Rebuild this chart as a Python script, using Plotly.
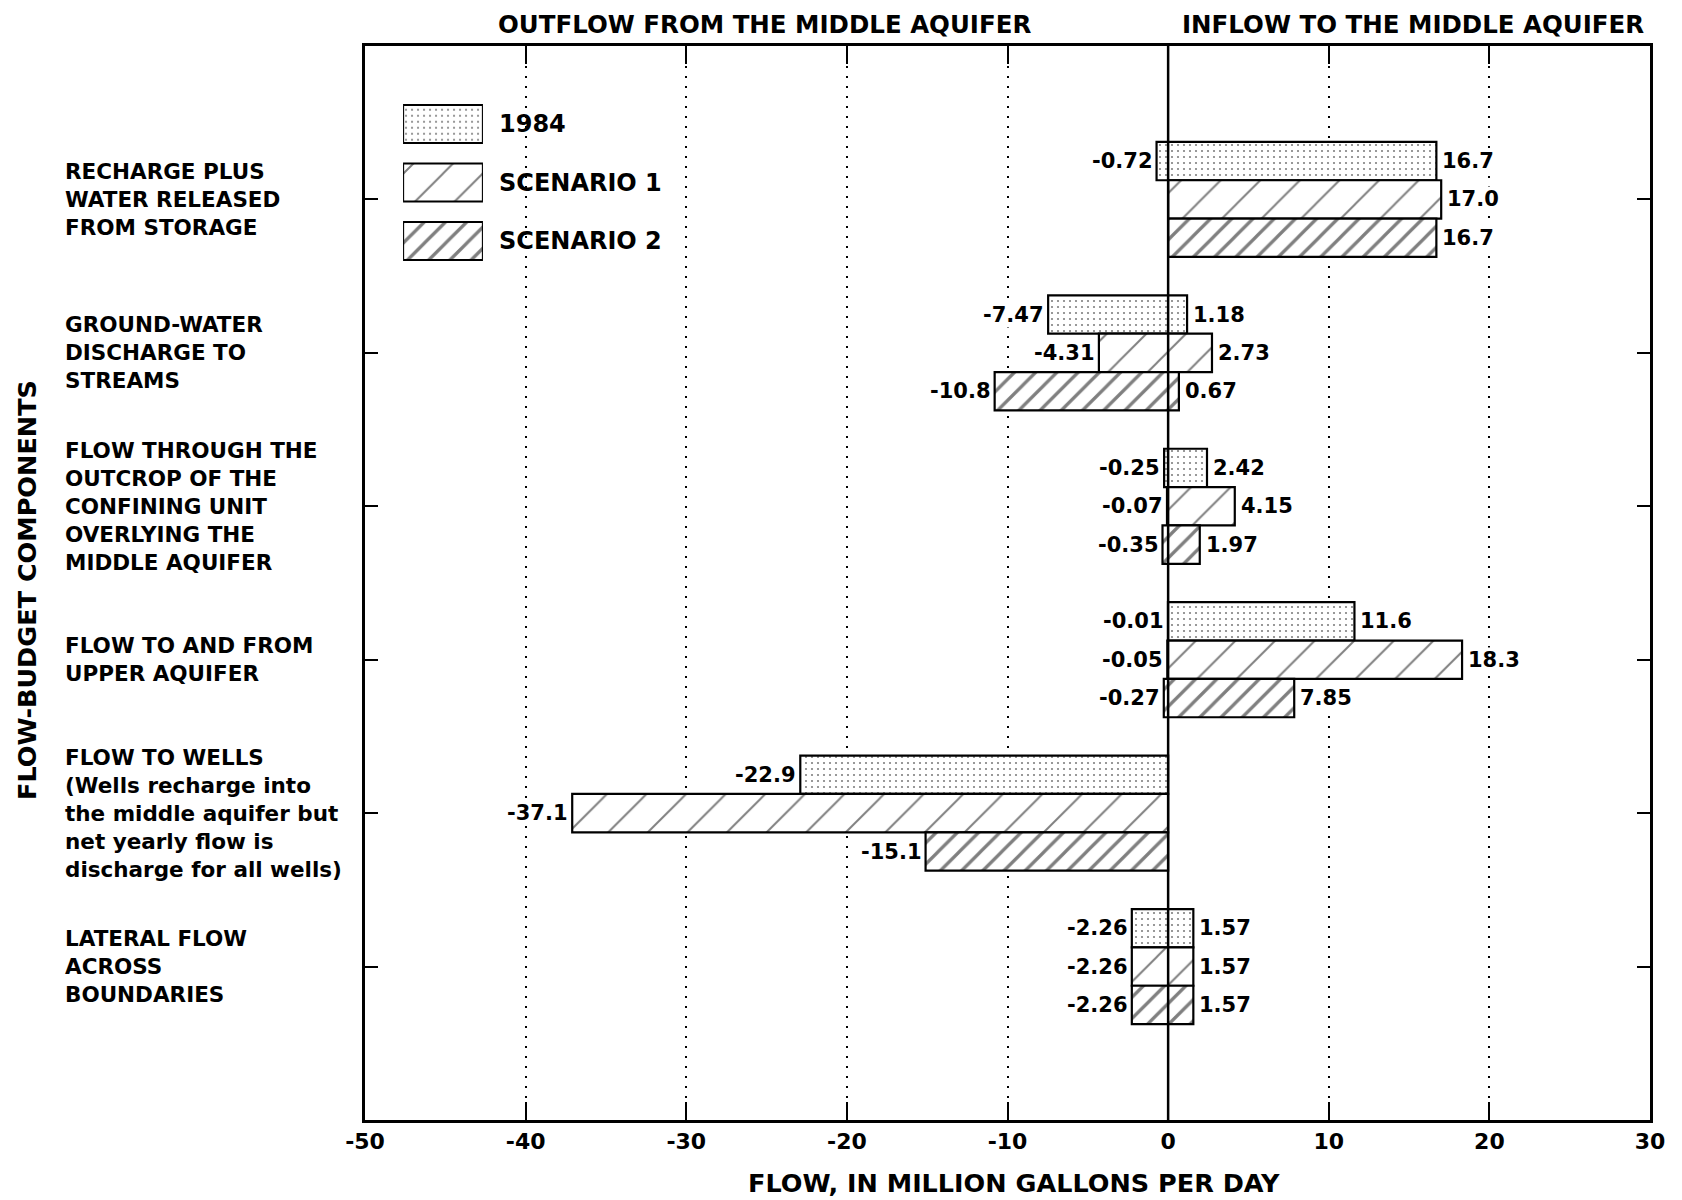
import plotly.graph_objects as go

components = [
    "RECHARGE PLUS<br>WATER RELEASED<br>FROM STORAGE",
    "GROUND-WATER<br>DISCHARGE TO<br>STREAMS",
    "FLOW THROUGH THE<br>OUTCROP OF THE<br>CONFINING UNIT<br>OVERLYING THE<br>MIDDLE AQUIFER",
    "FLOW TO AND FROM<br>UPPER AQUIFER",
    "FLOW TO WELLS<br>(Wells recharge into<br>the middle aquifer but<br>net yearly flow is<br>discharge for all wells)",
    "LATERAL FLOW<br>ACROSS<br>BOUNDARIES",
]
scenarios = ["1984", "SCENARIO 1", "SCENARIO 2"]

# outflow (negative) and inflow (positive) for each component, None = no label
outflow_1984 = [-0.72, -7.47, -0.25, -0.01, -22.9, -2.26]
inflow_1984 = [16.7, 1.18, 2.42, 11.6, None, 1.57]
outflow_s1 = [None, -4.31, -0.07, -0.05, -37.1, -2.26]
inflow_s1 = [17.0, 2.73, 4.15, 18.3, None, 1.57]
outflow_s2 = [None, -10.8, -0.35, -0.27, -15.1, -2.26]
inflow_s2 = [16.7, 0.67, 1.97, 7.85, None, 1.57]

x_tickvals = [-50, -40, -30, -20, -10, 0, 10, 20, 30]
x_ticktext = ["-50", "-40", "-30", "-20", "-10", "0", "10", "20", "30"]

outflows = [outflow_1984, outflow_s1, outflow_s2]
inflows = [inflow_1984, inflow_s1, inflow_s2]
offsets = [-0.25, 0, 0.25]
patterns = [
    dict(shape='.', size=6, solidity=0.1, fgcolor='black', fillmode='overlay'),
    dict(shape='/', size=28, solidity=0.07, fgcolor='black', fillmode='overlay'),
    dict(shape='/', size=15, solidity=0.22, fgcolor='black', fillmode='overlay'),
]

FONT = "DejaVu Sans"
cat_pos = list(range(1, len(components) + 1))


def fmt(v):
    return f"{v:.1f}" if abs(v) >= 10 else f"{v:.2f}"


fig = go.Figure()
annotations = []

for k, name in enumerate(scenarios):
    outs = outflows[k]
    ins = inflows[k]
    ys = [p + offsets[k] for p in cat_pos]
    base = [o if o is not None else 0 for o in outs]
    length = [(i if i is not None else 0) - b for i, b in zip(ins, base)]
    fig.add_trace(go.Bar(
        x=length, y=ys, base=base, orientation='h', width=0.25,
        marker=dict(color='white', line=dict(color='black', width=2.2), pattern=patterns[k]),
        name=name, showlegend=False, hoverinfo='skip'
    ))
    for y, o, i in zip(ys, outs, ins):
        if o is not None:
            annotations.append(dict(x=o, y=y, xref='x', yref='y', text=fmt(o), showarrow=False,
                                    xanchor='right', xshift=-3, bgcolor='white', borderpad=0,
                                    font=dict(family=FONT, size=21, color='black', weight='bold')))
        if i is not None:
            annotations.append(dict(x=i, y=y, xref='x', yref='y', text=fmt(i), showarrow=False,
                                    xanchor='left', xshift=5, bgcolor='white', borderpad=0,
                                    font=dict(family=FONT, size=21, color='black', weight='bold')))

    # legend swatch
    fig.add_trace(go.Bar(
        x=[1], y=[k], base=[0], orientation='h', width=0.65, xaxis='x2', yaxis='y2',
        marker=dict(color='white', line=dict(color='black', width=2.2), pattern=patterns[k]),
        showlegend=False, hoverinfo='skip'
    ))
    annotations.append(dict(x=0.1027, y=k, xref='paper', yref='y2', text=name, showarrow=False,
                            xanchor='left', yanchor='middle',
                            font=dict(family=FONT, size=24, color='black', weight='bold')))

for p, label in zip(cat_pos, components):
    annotations.append(dict(x=-0.235, y=p, xref='paper', yref='y', text=label, showarrow=False,
                            xanchor='left', yanchor='middle', align='left',
                            font=dict(family=FONT, size=21.5, color='black', weight='bold')))

title_font = dict(family=FONT, size=24.5, color='black', weight='bold')
annotations += [
    dict(x=0.311, y=1.0196, xref='paper', yref='paper', text="OUTFLOW FROM THE MIDDLE AQUIFER",
         showarrow=False, xanchor='center', yanchor='middle', font=title_font),
    dict(x=0.8155, y=1.0196, xref='paper', yref='paper', text="INFLOW TO THE MIDDLE AQUIFER",
         showarrow=False, xanchor='center', yanchor='middle', font=title_font),
    dict(x=0.505, y=-0.0587, xref='paper', yref='paper', text="FLOW, IN MILLION GALLONS PER DAY",
         showarrow=False, xanchor='center', yanchor='middle',
         font=dict(family=FONT, size=25.5, color='black', weight='bold')),
    dict(x=-0.263, y=0.4935, xref='paper', yref='paper', text="FLOW-BUDGET COMPONENTS",
         showarrow=False, xanchor='center', yanchor='middle', textangle=-90,
         font=dict(family=FONT, size=25.5, color='black', weight='bold')),
]

# page body has an 8px margin, so the figure is sized to fill the rest
fig.update_layout(
    width=1674, height=1192,
    margin=dict(l=357, r=32, t=38, b=80),
    paper_bgcolor='white', plot_bgcolor='white',
    barmode='overlay',
    xaxis=dict(
        range=[-50, 30], tickvals=x_tickvals, ticktext=x_ticktext,
        ticks='inside', ticklen=18, tickwidth=2, tickcolor='black',
        showline=True, linecolor='black', linewidth=2.5, mirror='ticks',
        showgrid=True, gridcolor='black', gridwidth=2, griddash='2px,8px',
        zeroline=False, fixedrange=True,
        tickfont=dict(family=FONT, size=22, color='black', weight='bold')
    ),
    yaxis=dict(
        range=[7, 0], tickvals=cat_pos, showticklabels=False,
        ticks='inside', ticklen=13, tickwidth=2, tickcolor='black',
        showline=True, linecolor='black', linewidth=2.5, mirror='ticks',
        showgrid=False, zeroline=False, fixedrange=True
    ),
    xaxis2=dict(domain=[0.0296, 0.0918], range=[0, 1], anchor='y2', visible=False, fixedrange=True),
    yaxis2=dict(domain=[0.7912, 0.9546], range=[2.5, -0.5], anchor='x2', visible=False, fixedrange=True),
    shapes=[
        dict(type='rect', xref='paper', yref='paper', x0=0.0233, x1=0.243, y0=0.794, y1=0.953,
             fillcolor='white', line=dict(width=0), layer='between'),
        dict(type='line', xref='x', yref='paper', x0=0, x1=0, y0=0, y1=1,
             line=dict(color='black', width=2.5), layer='above'),
    ],
    annotations=annotations,
    dragmode=False,
)

fig.write_html("out.html")
